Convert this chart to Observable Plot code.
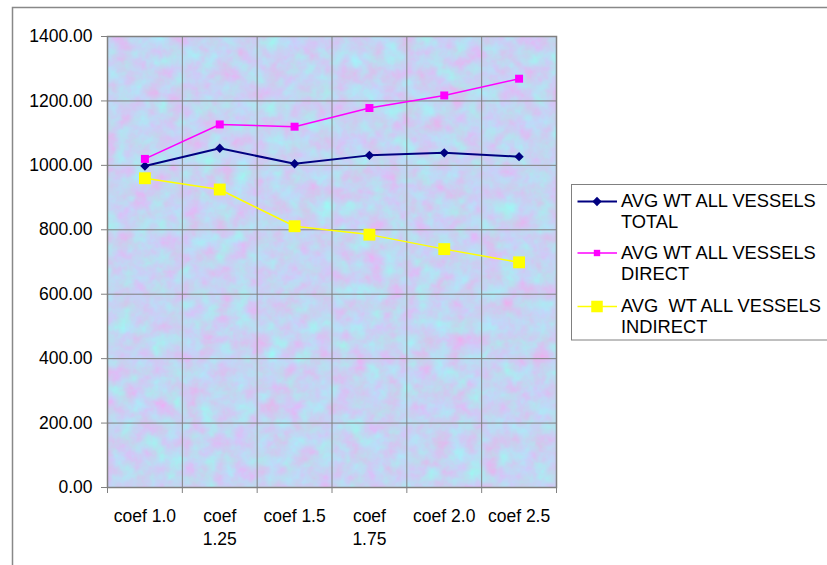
<!DOCTYPE html>
<html>
<head>
<meta charset="utf-8">
<script src="https://cdn.jsdelivr.net/npm/d3@7"></script>
<script src="https://cdn.jsdelivr.net/npm/@observablehq/plot@0.6"></script>
<style>
  html, body { margin: 0; padding: 0; background: #fff; }
  #chart svg { display: block; }
</style>
</head>
<body>
<div id="chart"></div>
<script>
const categories = ["coef 1.0", "coef 1.25", "coef 1.5", "coef 1.75", "coef 2.0", "coef 2.5"];
const tickLabels = ["coef 1.0", "coef\n1.25", "coef 1.5", "coef\n1.75", "coef 2.0", "coef 2.5"];
const totalValues = [998, 1053, 1005, 1031, 1039, 1027];
const directValues = [1020, 1127, 1120, 1178, 1217, 1269];
const indirectValues = [960, 925, 811, 785, 740, 699];
const yTicks = [0, 200, 400, 600, 800, 1000, 1200, 1400];
const seriesNames = ["AVG WT ALL VESSELS\nTOTAL", "AVG WT ALL VESSELS\nDIRECT", "AVG  WT ALL VESSELS\nINDIRECT"];
const seriesColors = ["#000080", "#ff00ff", "#ffff00"];

const font = "'Liberation Sans', Arial, Helvetica, sans-serif";
const seriesValues = [totalValues, directValues, indirectValues];
const rows = seriesValues.flatMap((vals, s) =>
  vals.map((v, i) => ({series: seriesNames[s], cat: categories[i], i, value: v})));
const xPos = d => d.i + 0.5;
const bySeries = s => rows.filter(d => d.series === seriesNames[s]);

const plot = Plot.plot({
  width: 827,
  height: 565,
  marginLeft: 107,
  marginRight: 271,
  marginTop: 36,
  marginBottom: 78,
  x: {type: "linear", domain: [0, categories.length], axis: null},
  y: {domain: [0, 1400], axis: null},
  color: {domain: seriesNames, range: seriesColors},
  style: {fontFamily: font, fontSize: "17.5px", color: "#000", background: "#fff"},
  marks: [
    Plot.frame({fill: "#c4d4f2"}),
    Plot.ruleY(yTicks, {stroke: "#808080", strokeWidth: 1}),
    Plot.ruleX(d3.range(categories.length + 1), {stroke: "#808080", strokeWidth: 1, insetBottom: -6}),
    Plot.axisY({ticks: yTicks, tickFormat: d => d.toFixed(2), tickSize: 6, tickPadding: 9,
      stroke: "#808080", fontSize: 17.5, label: null}),
    Plot.text(categories, {x: (d, i) => i + 0.5, y: () => 0, text: (d, i) => tickLabels[i],
      lineAnchor: "top", dy: 18, lineHeight: 1.33, fontSize: 17.5, fill: "#000"}),
    Plot.line(bySeries(0), {x: xPos, y: "value", stroke: "series", strokeWidth: 2}),
    Plot.line(bySeries(1), {x: xPos, y: "value", stroke: "series", strokeWidth: 1.5}),
    Plot.line(bySeries(2), {x: xPos, y: "value", stroke: "series", strokeWidth: 1.5}),
    Plot.dot(bySeries(0), {x: xPos, y: "value", fill: "series", symbol: "diamond2", r: 4.2}),
    Plot.dot(bySeries(1), {x: xPos, y: "value", fill: "series", symbol: "square", r: 4.5}),
    Plot.dot(bySeries(2), {x: xPos, y: "value", fill: "series", symbol: "square", r: 6.7}),
    Plot.frame({stroke: "#808080", strokeWidth: 1.5})
  ]
});

document.getElementById("chart").appendChild(plot);

const svg = d3.select(plot);
// texture filter for plot background
const defs = svg.insert("defs", ":first-child");
const filt = defs.append("filter").attr("id", "bgtex")
  .attr("x", 0).attr("y", 0).attr("width", 1).attr("height", 1)
  .attr("filterUnits", "objectBoundingBox")
  .attr("color-interpolation-filters", "sRGB");
filt.append("feTurbulence").attr("type", "fractalNoise").attr("baseFrequency", 0.06)
  .attr("numOctaves", 4).attr("seed", 7).attr("result", "n");
filt.append("feColorMatrix").attr("in", "n").attr("type", "matrix")
  .attr("values", "0.22 -0.22 0 0 0.77  -0.2 0.2 0 0 0.83  0 0 0.08 0 0.91  0 0 0 0 1");
const frameEl = plot.querySelector('[aria-label="frame"]');
if (frameEl) frameEl.setAttribute("filter", "url(#bgtex)");

// outer chart border
svg.append("rect").attr("x", 12.5).attr("y", 7.5).attr("width", 900).attr("height", 900)
  .attr("fill", "none").attr("stroke", "#888").attr("stroke-width", 1.5);

// legend
const lg = svg.append("g").attr("font-family", font).attr("font-size", 18.3)
  .attr("text-anchor", "start");
lg.append("rect").attr("x", 571.5).attr("y", 184.5).attr("width", 300).attr("height", 155.5)
  .attr("fill", "#fff").attr("stroke", "#808080").attr("stroke-width", 1);
const entryY = [201.5, 253, 306.5];
const symbols = [d3.symbolDiamond2, d3.symbolSquare, d3.symbolSquare];
const symSizes = [Math.PI * 4.2 * 4.2, Math.PI * 3.6 * 3.6, Math.PI * 6.5 * 6.5];
seriesNames.forEach((name, s) => {
  const y = entryY[s];
  lg.append("line").attr("x1", 577.5).attr("x2", 617).attr("y1", y).attr("y2", y)
    .attr("stroke", seriesColors[s]).attr("stroke-width", s === 0 ? 2 : 1.5);
  lg.append("path").attr("d", d3.symbol(symbols[s], symSizes[s])())
    .attr("transform", `translate(597,${y})`).attr("fill", seriesColors[s]);
  const t = lg.append("text").attr("x", 621).attr("y", y + 5.5).attr("fill", "#000")
    .attr("text-anchor", "start").style("white-space", "pre");
  name.split("\n").forEach((ln, k) => {
    t.append("tspan").attr("x", 621).attr("dy", k === 0 ? 0 : 21.3).text(ln);
  });
});
</script>
</body>
</html>
